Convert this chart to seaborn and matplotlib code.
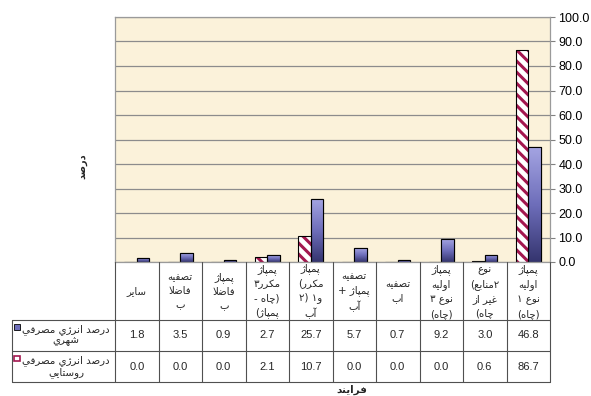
import re
import numpy as np
import pandas as pd
import matplotlib
matplotlib.use("Agg")
import matplotlib.pyplot as plt
import seaborn as sns
import matplotlib.transforms as mtransforms
from matplotlib.colors import LinearSegmentedColormap
from matplotlib.patches import Rectangle
from matplotlib.lines import Line2D

# ---------------- data (logical order: right-most category first) ----------------
categories = [
    "پمپاژ\nاولیه\nنوع ۱\n(چاه)",
    "نوع\n(منابع۲\nغیر از\n(چاه",
    "پمپاژ\nاولیه\nنوع ۳\n(چاه)",
    "تصفیه\nاب",
    "تصفیه\nپمپاژ +\nآب",
    "پمپاژ\n(مکرر\n۱و ۲)\nآب",
    "پمپاژ\n۳مکرر\nچاه) -\n(پمپاژ",
    "پمپاژ\nفاضلا\nب",
    "تصفیه\nفاضلا\nب",
    "سایر",
]
urban_values = [46.8, 3.0, 9.2, 0.7, 5.7, 25.7, 2.7, 0.9, 3.5, 1.8]
rural_values = [86.7, 0.6, 0.0, 0.0, 0.0, 10.7, 2.1, 0.0, 0.0, 0.0]
series_names = ["درصد انرژي مصرفي\nشهري", "درصد انرژي مصرفي\nروستايي"]
y_ticks = [0, 10, 20, 30, 40, 50, 60, 70, 80, 90, 100]
y_label = "درصد"
x_label = "فرایند"

# ---------------- minimal Arabic/Persian shaping ----------------
FORMS = {
    'ا': ('\uFE8D', '\uFE8E', None, None),
    'آ': ('\uFE81', '\uFE82', None, None),
    'ب': ('\uFE8F', '\uFE90', '\uFE91', '\uFE92'),
    'پ': ('\uFB56', '\uFB57', '\uFB58', '\uFB59'),
    'ت': ('\uFE95', '\uFE96', '\uFE97', '\uFE98'),
    'چ': ('\uFB7A', '\uFB7B', '\uFB7C', '\uFB7D'),
    'د': ('\uFEA9', '\uFEAA', None, None),
    'ر': ('\uFEAD', '\uFEAE', None, None),
    'ز': ('\uFEAF', '\uFEB0', None, None),
    'ژ': ('\uFB8A', '\uFB8B', None, None),
    'س': ('\uFEB1', '\uFEB2', '\uFEB3', '\uFEB4'),
    'ش': ('\uFEB5', '\uFEB6', '\uFEB7', '\uFEB8'),
    'ص': ('\uFEB9', '\uFEBA', '\uFEBB', '\uFEBC'),
    'ض': ('\uFEBD', '\uFEBE', '\uFEBF', '\uFEC0'),
    'ع': ('\uFEC9', '\uFECA', '\uFECB', '\uFECC'),
    'غ': ('\uFECD', '\uFECE', '\uFECF', '\uFED0'),
    'ف': ('\uFED1', '\uFED2', '\uFED3', '\uFED4'),
    'ک': ('\uFB8E', '\uFB8F', '\uFB90', '\uFB91'),
    'ل': ('\uFEDD', '\uFEDE', '\uFEDF', '\uFEE0'),
    'م': ('\uFEE1', '\uFEE2', '\uFEE3', '\uFEE4'),
    'ن': ('\uFEE5', '\uFEE6', '\uFEE7', '\uFEE8'),
    'ه': ('\uFEE9', '\uFEEA', '\uFEEB', '\uFEEC'),
    'و': ('\uFEED', '\uFEEE', None, None),
    'ی': ('\uFBFC', '\uFBFD', '\uFBFE', '\uFBFF'),
    'ي': ('\uFEF1', '\uFEF2', '\uFEF3', '\uFEF4'),
    'LAا': ('\uFEFB', '\uFEFC', None, None),
    'LAآ': ('\uFEF5', '\uFEF6', None, None),
}


def shape_word(w):
    units = []
    i = 0
    while i < len(w):
        c = w[i]
        if c == 'ل' and i + 1 < len(w) and w[i + 1] in 'اآ':
            units.append('LA' + w[i + 1])
            i += 2
        else:
            units.append(c)
            i += 1
    out = []
    for k, u in enumerate(units):
        if u not in FORMS:
            out.append(u)
            continue
        prev = units[k - 1] if k > 0 else None
        nxt = units[k + 1] if k + 1 < len(units) else None
        jp = prev is not None and prev in FORMS and FORMS[prev][2] is not None
        jn = FORMS[u][2] is not None and nxt is not None and nxt in FORMS
        iso, fin, ini, med = FORMS[u]
        if jp and jn:
            out.append(med)
        elif jp:
            out.append(fin)
        elif jn:
            out.append(ini)
        else:
            out.append(iso)
    return ''.join(reversed(out))


ARABIC_RUN = re.compile('[\u0621-\u064A\u067E\u0686\u0698\u06A9\u06AF\u06CC]+')


def vis(text):
    """Shape each word and lay the words of every line out right-to-left."""
    lines = []
    for line in text.split('\n'):
        toks = [ARABIC_RUN.sub(lambda m: shape_word(m.group(0)), t) for t in line.split(' ')]
        lines.append(' '.join(reversed(toks)))
    return '\n'.join(lines)


# ---------------- figure ----------------
sns.set_theme(style="white")
plt.rcParams['font.family'] = ['Liberation Sans', 'DejaVu Sans']
plt.rcParams['hatch.linewidth'] = 2.2

W, H = 591, 396
fig = plt.figure(figsize=(W / 100, H / 100), dpi=100)
fig.patch.set_facecolor('white')

L, R, T, B = 115, 550, 17, 262
ax = fig.add_axes([L / W, 1 - B / H, (R - L) / W, (B - T) / H])

df = pd.DataFrame({
    'process': categories * 2,
    'series': [series_names[0]] * len(categories) + [series_names[1]] * len(categories),
    'value': urban_values + rural_values,
})

sns.barplot(data=df, x='process', y='value', hue='series', order=categories,
            hue_order=series_names, width=0.58, ax=ax, legend=False,
            palette=['#7A7AC4', 'white'], saturation=1,
            edgecolor='black', linewidth=0.8, errorbar=None)

ax.set_facecolor('#FBF2DA')
ax.set_ylim(0, 100)
ax.set_xlim(len(categories) - 0.5, -0.5)  # right-to-left
ax.set_yticks(y_ticks)
ax.set_yticklabels([f"{v:.1f}" for v in y_ticks], fontsize=9, color='black')
ax.yaxis.tick_right()
ax.tick_params(axis='y', which='both', right=True, length=3.5, width=0.8,
               color='#808080', pad=2.5)
ax.set_xticks([])
ax.set_xlabel('')
ax.set_ylabel('')
ax.yaxis.grid(True, color='#8C8C8C', linewidth=0.9)
ax.set_axisbelow(True)
for s in ax.spines.values():
    s.set_color('#9A9A9A')
    s.set_linewidth(0.9)

# urban bars: vertical gradient
cmap = LinearSegmentedColormap.from_list('blu', ['#34346E', '#6E6EBA', '#A4A4E2'])
grad = np.linspace(0, 1, 256).reshape(-1, 1)
for p in ax.containers[0].patches:
    x0, y0, w, h = p.get_x(), p.get_y(), p.get_width(), p.get_height()
    if h > 0:
        im = ax.imshow(grad, extent=[x0, x0 + w, y0, y0 + h], origin='lower',
                       cmap=cmap, aspect='auto', zorder=p.get_zorder() + 0.1,
                       interpolation='bilinear')
        im.set_clip_path(p)
    ax.add_patch(Rectangle((x0, y0), w, h, fill=False, edgecolor='black',
                           linewidth=0.8, zorder=p.get_zorder() + 0.2))

# rural bars: white with crimson diagonal hatch
for p in ax.containers[1].patches:
    x0, y0, w, h = p.get_x(), p.get_y(), p.get_width(), p.get_height()
    p.set_facecolor('white')
    p.set_edgecolor('#A3174F')
    p.set_hatch('\\\\\\')
    p.set_linewidth(0)
    ax.add_patch(Rectangle((x0, y0), w, h, fill=False, edgecolor='black',
                           linewidth=0.8, zorder=p.get_zorder() + 0.2))

ax.set_xlim(len(categories) - 0.5, -0.5)
ax.set_ylim(0, 100)


# ---------------- data table ----------------
def fy(py):
    return 1 - py / H


def fx(px):
    return px / W


trans = mtransforms.blended_transform_factory(ax.transData, fig.transFigure)
line_col = '#505050'
y_head_top, y_r1, y_r2, y_bot = 262, 319.5, 351, 382

for i in range(len(categories) + 1):
    xb = i - 0.5
    fig.add_artist(Line2D([xb, xb], [fy(y_head_top), fy(y_bot)], transform=trans,
                          color=line_col, linewidth=0.8))
for yy in (y_r1, y_r2, y_bot):
    fig.add_artist(Line2D([fx(12), fx(R)], [fy(yy), fy(yy)], transform=fig.transFigure,
                          color=line_col, linewidth=0.8))
fig.add_artist(Line2D([fx(12), fx(12)], [fy(y_r1), fy(y_bot)], transform=fig.transFigure,
                      color=line_col, linewidth=0.8))

for i, cat in enumerate(categories):
    fig.text(i, fy((y_head_top + y_r1) / 2 + 0.5), vis(cat), transform=trans,
             ha='center', va='center', fontsize=7.3, linespacing=1.5,
             family=['DejaVu Sans'])
    fig.text(i, fy((y_r1 + y_r2) / 2), f"{urban_values[i]:.1f}", transform=trans,
             ha='center', va='center', fontsize=8)
    fig.text(i, fy((y_r2 + y_bot) / 2), f"{rural_values[i]:.1f}", transform=trans,
             ha='center', va='center', fontsize=8)

# legend cells
for k, name in enumerate(series_names):
    top = y_r1 if k == 0 else y_r2
    bot = y_r2 if k == 0 else y_bot
    fig.text(fx(66), fy((top + bot) / 2), vis(name), ha='center', va='center',
             fontsize=7.4, linespacing=1.05, family=['DejaVu Sans'])
    sq_y = top + 4.5
    if k == 0:
        sq = Rectangle((fx(14), fy(sq_y + 5.5)), 5.5 / W, 5.5 / H, transform=fig.transFigure,
                       facecolor='#6E6EBA', edgecolor='black', linewidth=0.6)
    else:
        sq = Rectangle((fx(14), fy(sq_y + 5.5)), 5.5 / W, 5.5 / H, transform=fig.transFigure,
                       facecolor='white', edgecolor='#A3174F', linewidth=1.2)
    fig.add_artist(sq)

# axis titles
fig.text(fx(82), fy(166), vis(y_label), rotation=90, ha='center', va='center',
         fontsize=7, fontweight='bold', family=['DejaVu Sans'])
fig.text(fx(352), fy(389.5), vis(x_label), ha='center', va='center',
         fontsize=7.5, fontweight='bold', family=['DejaVu Sans'])

fig.savefig('out.png', dpi=100, facecolor='white')
